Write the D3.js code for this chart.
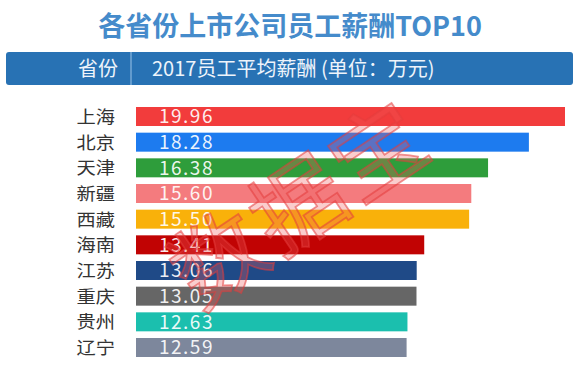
<!DOCTYPE html>
<html>
<head>
<meta charset="utf-8">
<script src="https://cdn.jsdelivr.net/npm/d3@7"></script>
<style>
  html, body { margin: 0; padding: 0; background: #ffffff; }
  svg { display: block; }
  text { font-family: "Noto Sans CJK SC", "Noto Sans", Arial, sans-serif; }
</style>
</head>
<body>
<svg id="chart" width="578" height="380"></svg>
<script>
const title = "各省份上市公司员工薪酬TOP10";
const headerLeft = "省份";
const headerRight = "2017员工平均薪酬 (单位：万元)";
const provinces = ["上海", "北京", "天津", "新疆", "西藏", "海南", "江苏", "重庆", "贵州", "辽宁"];
const salaries = [19.96, 18.28, 16.38, 15.60, 15.50, 13.41, 13.06, 13.05, 12.63, 12.59];
const watermark = "数据宝";

const palette = ["#f23c3c", "#1d7bef", "#2e9d3b", "#f47b7e", "#f9b10a", "#c10303",
                 "#1f4a87", "#666666", "#1bbfae", "#7d879c"];

const svg = d3.select("#chart");

// Title
svg.append("text")
  .attr("x", 290).attr("y", 36)
  .attr("text-anchor", "middle")
  .attr("font-size", 27).attr("font-weight", "bold")
  .attr("fill", "#458bcb")
  .text(title);

// Header band
svg.append("rect")
  .attr("x", 6).attr("y", 52).attr("width", 567).attr("height", 33)
  .attr("rx", 3)
  .attr("fill", "#2872b4");
svg.append("line")
  .attr("x1", 131).attr("x2", 131).attr("y1", 52).attr("y2", 85)
  .attr("stroke", "#9cc4e8").attr("stroke-width", 1);
svg.append("text")
  .attr("x", 118).attr("y", 76)
  .attr("text-anchor", "end")
  .attr("font-size", 20).attr("fill", "#eef4fb")
  .text(headerLeft);
svg.append("text")
  .attr("x", 152).attr("y", 76)
  .attr("font-size", 20).attr("fill", "#eef4fb")
  .text(headerRight);

// Scales
const x = d3.scaleLinear().domain([0, d3.max(salaries)]).range([136, 565]);
const y = d3.scaleBand().domain(provinces).range([107, 357]).paddingInner(0.26).paddingOuter(0);

const rows = provinces.map((p, i) => ({ p, v: salaries[i], c: palette[i] }));

svg.append("g").selectAll("rect")
  .data(rows).join("rect")
  .attr("x", x(0))
  .attr("y", d => y(d.p))
  .attr("width", d => x(d.v) - x(0))
  .attr("height", y.bandwidth())
  .attr("fill", d => d.c);

// Category labels (slightly widened so glyphs match while boxes don't overlap)
svg.append("g").selectAll("text")
  .data(rows).join("text")
  .attr("transform", d => `translate(115,${y(d.p) + y.bandwidth() / 2 + 6.5}) scale(1.1,1)`)
  .attr("text-anchor", "end")
  .attr("font-size", 17.5)
  .attr("fill", "#333333")
  .text(d => d.p);

// Value labels
svg.append("g").selectAll("text")
  .data(rows).join("text")
  .attr("x", 159)
  .attr("y", d => y(d.p) + y.bandwidth() / 2 + 6.8)
  .attr("font-family", "Liberation Sans, Arial, sans-serif")
  .attr("font-size", 19)
  .attr("letter-spacing", 1.5)
  .attr("fill", "#ffffff")
  .attr("fill-opacity", 0.92)
  .text(d => d.v.toFixed(2));

// Watermark
svg.append("text")
  .attr("transform", "translate(296,198) rotate(-34)")
  .attr("text-anchor", "middle")
  .attr("dominant-baseline", "central")
  .attr("font-size", 92)
  .attr("letter-spacing", 4)
  .attr("fill", "rgba(240,90,90,0.3)")
  .attr("stroke", "rgba(228,60,60,0.55)")
  .attr("stroke-width", 1.8)
  .text(watermark);
</script>
</body>
</html>
